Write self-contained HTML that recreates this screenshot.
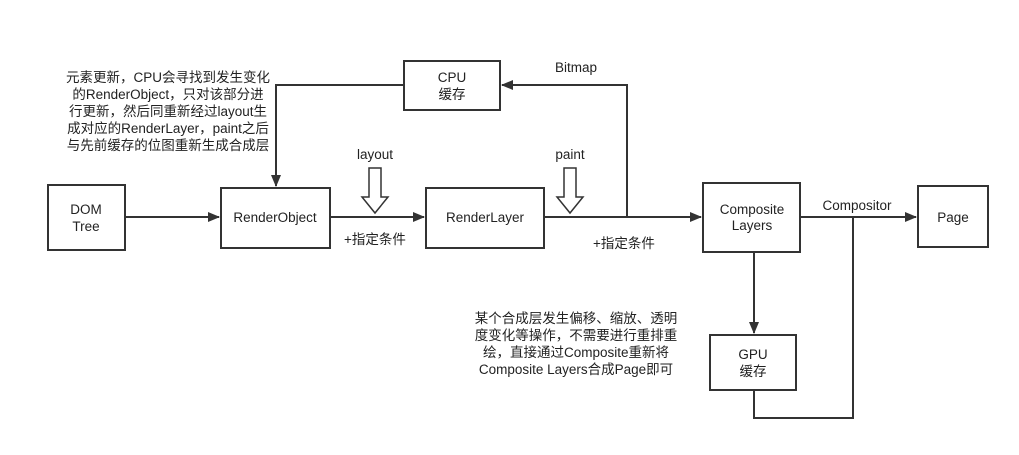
<!DOCTYPE html>
<html><head><meta charset="utf-8"><style>
body{margin:0;background:#fff;}
svg text{font-family:"Liberation Sans","Noto Sans CJK SC",sans-serif;font-size:13.5px;fill:#222;}
</style></head><body>
<svg width="1019" height="450" viewBox="0 0 1019 450" xmlns="http://www.w3.org/2000/svg">
<defs><marker id="a" markerWidth="12" markerHeight="10" refX="11" refY="5" orient="auto" markerUnits="userSpaceOnUse"><path d="M0,0 L12,5 L0,10 Z" fill="#333"/></marker></defs>
<g fill="none" stroke="#333" stroke-width="2">
<rect x="48" y="185" width="77" height="65"/>
<rect x="221" y="188" width="109" height="60"/>
<rect x="426" y="188" width="118" height="60"/>
<rect x="404" y="61" width="96" height="49"/>
<rect x="703" y="183" width="97" height="69"/>
<rect x="918" y="186" width="70" height="61"/>
<rect x="710" y="335" width="86" height="55"/>
<line x1="125" y1="217" x2="219" y2="217" marker-end="url(#a)"/>
<line x1="330" y1="217" x2="424" y2="217" marker-end="url(#a)"/>
<line x1="544" y1="217" x2="701" y2="217" marker-end="url(#a)"/>
<line x1="800" y1="217" x2="916" y2="217" marker-end="url(#a)"/>
<polyline points="627,217 627,85 502,85" marker-end="url(#a)"/>
<polyline points="404,85 276,85 276,186" marker-end="url(#a)"/>
<line x1="754" y1="252" x2="754" y2="333" marker-end="url(#a)"/>
<polyline points="853,217 853,418 754,418 754,390"/>
</g>
<g fill="#fff" stroke="#333" stroke-width="1.5">
<path d="M369,168 H381 V197 H388 L375,213 L362,197 H369 Z"/>
<path d="M564,168 H576 V197 H583 L570,213 L557,197 H564 Z"/>
</g>
<g text-anchor="middle">
<text x="86" y="214">DOM</text><text x="86" y="231">Tree</text>
<text x="275" y="222">RenderObject</text>
<text x="485" y="222">RenderLayer</text>
<text x="452" y="82">CPU</text><text x="452" y="99">缓存</text>
<text x="752" y="214">Composite</text><text x="752" y="230">Layers</text>
<text x="953" y="222">Page</text>
<text x="753" y="359">GPU</text><text x="753" y="376">缓存</text>
<text x="375" y="159">layout</text>
<text x="570" y="159">paint</text>
<text x="576" y="72">Bitmap</text>
<text x="857" y="210">Compositor</text>
<text x="375" y="244">+指定条件</text>
<text x="624" y="248">+指定条件</text>
<text x="168" y="82">元素更新，CPU会寻找到发生变化</text>
<text x="168" y="99">的RenderObject，只对该部分进</text>
<text x="168" y="116">行更新，然后同重新经过layout生</text>
<text x="168" y="133">成对应的RenderLayer，paint之后</text>
<text x="168" y="150">与先前缓存的位图重新生成合成层</text>
<text x="576" y="323">某个合成层发生偏移、缩放、透明</text>
<text x="576" y="340">度变化等操作，不需要进行重排重</text>
<text x="576" y="357">绘，直接通过Composite重新将</text>
<text x="576" y="374">Composite Layers合成Page即可</text>
</g>
</svg>
</body></html>
